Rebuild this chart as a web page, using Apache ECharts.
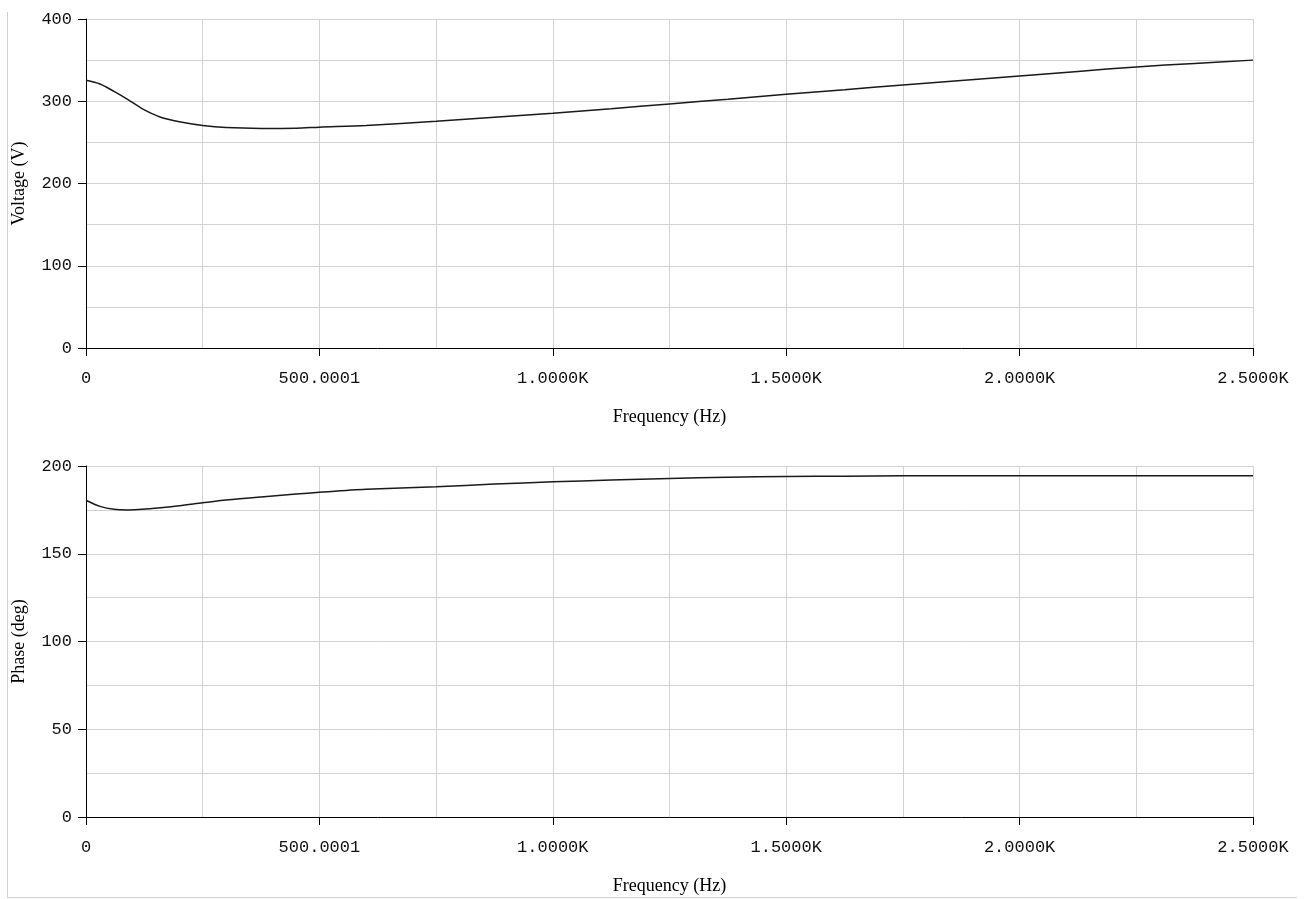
<!DOCTYPE html>
<html>
<head>
<meta charset="utf-8">
<script src="https://cdn.jsdelivr.net/npm/echarts@6/dist/echarts.min.js"></script>
<style>
html,body{margin:0;padding:0;background:#fff;}
#chart{width:1304px;height:899px;}
</style>
</head>
<body>
<div id="chart"></div>
<script>
// Frequency samples (Hz)
const freq = [0, 30, 60, 90, 120, 160, 200, 250, 300, 375, 450, 500, 600, 750, 875, 1000, 1125, 1250, 1375, 1500, 1625, 1750, 1875, 2000, 2125, 2250, 2375, 2500];
// Voltage (V)
const voltage = [325.5, 321, 312, 302, 291, 280.5, 275, 270.5, 268, 267, 267.3, 268.5, 270.5, 275.7, 280.5, 285.4, 291, 296.8, 302.5, 308.6, 314, 319.8, 325.3, 330.8, 336.3, 341.7, 346, 350];
// Phase (deg)
const phase = [180.5, 177, 175.3, 175, 175.3, 176.2, 177.3, 179, 180.6, 182.4, 184, 185, 186.7, 188.2, 189.7, 191, 192, 192.9, 193.6, 194, 194.2, 194.4, 194.5, 194.5, 194.5, 194.5, 194.5, 194.5];
// X tick labels
const xTickLabels = {0: '0', 500: '500.0001', 1000: '1.0000K', 1500: '1.5000K', 2000: '2.0000K', 2500: '2.5000K'};

const monoFont = '"Liberation Mono", "DejaVu Sans Mono", monospace';
const serifFont = '"Liberation Serif", "DejaVu Serif", serif';

function xAxisCfg(gi) {
  return {
    type: 'value', gridIndex: gi, min: 0, max: 2500, interval: 500,
    name: 'Frequency (Hz)', nameLocation: 'middle', nameGap: 60,
    nameTextStyle: {fontFamily: serifFont, fontSize: 18, color: '#000'},
    axisLine: {show: true, onZero: false, lineStyle: {color: '#000', width: 1}},
    axisTick: {show: true, length: 8, inside: false, lineStyle: {color: '#000'}},
    axisLabel: {margin: 22, fontFamily: monoFont, fontSize: 17, color: '#111',
      formatter: v => xTickLabels[v] !== undefined ? xTickLabels[v] : ''},
    splitLine: {show: true, lineStyle: {color: '#d2d2d2', width: 1}},
    minorTick: {show: false, splitNumber: 2},
    minorSplitLine: {show: true, lineStyle: {color: '#d2d2d2', width: 1}}
  };
}
function yAxisCfg(gi, max, interval, name) {
  return {
    type: 'value', gridIndex: gi, min: 0, max: max, interval: interval,
    name: name, nameLocation: 'middle', nameGap: 58, nameRotate: 90,
    nameTextStyle: {fontFamily: serifFont, fontSize: 18, color: '#000'},
    axisLine: {show: true, onZero: false, lineStyle: {color: '#000', width: 1}},
    axisTick: {show: true, length: 8, inside: false, lineStyle: {color: '#000'}},
    axisLabel: {margin: 14, fontFamily: monoFont, fontSize: 17, color: '#111'},
    splitLine: {show: true, lineStyle: {color: '#d2d2d2', width: 1}},
    minorTick: {show: false, splitNumber: 2},
    minorSplitLine: {show: true, lineStyle: {color: '#d2d2d2', width: 1}}
  };
}

const chart = echarts.init(document.getElementById('chart'), null, {renderer: 'canvas'});
chart.setOption({
  animation: false,
  backgroundColor: '#fff',
  graphic: [
    {type: 'line', shape: {x1: 7.5, y1: 12, x2: 7.5, y2: 897.5}, style: {stroke: '#d4d0c8', lineWidth: 1}},
    {type: 'line', shape: {x1: 7, y1: 897.5, x2: 1297, y2: 897.5}, style: {stroke: '#d4d0c8', lineWidth: 1}}
  ],
  grid: [
    {left: 86, right: 51, top: 19, height: 329, containLabel: false},
    {left: 86, right: 51, top: 466, height: 351, containLabel: false}
  ],
  xAxis: [xAxisCfg(0), xAxisCfg(1)],
  yAxis: [yAxisCfg(0, 400, 100, 'Voltage (V)'), yAxisCfg(1, 200, 50, 'Phase (deg)')],
  series: [
    {type: 'line', xAxisIndex: 0, yAxisIndex: 0, showSymbol: false, smooth: 0.3,
      lineStyle: {color: '#1a1a1a', width: 1.5}, data: freq.map((f, i) => [f, voltage[i]])},
    {type: 'line', xAxisIndex: 1, yAxisIndex: 1, showSymbol: false, smooth: 0.3,
      lineStyle: {color: '#1a1a1a', width: 1.5}, data: freq.map((f, i) => [f, phase[i]])}
  ]
});
</script>
</body>
</html>
